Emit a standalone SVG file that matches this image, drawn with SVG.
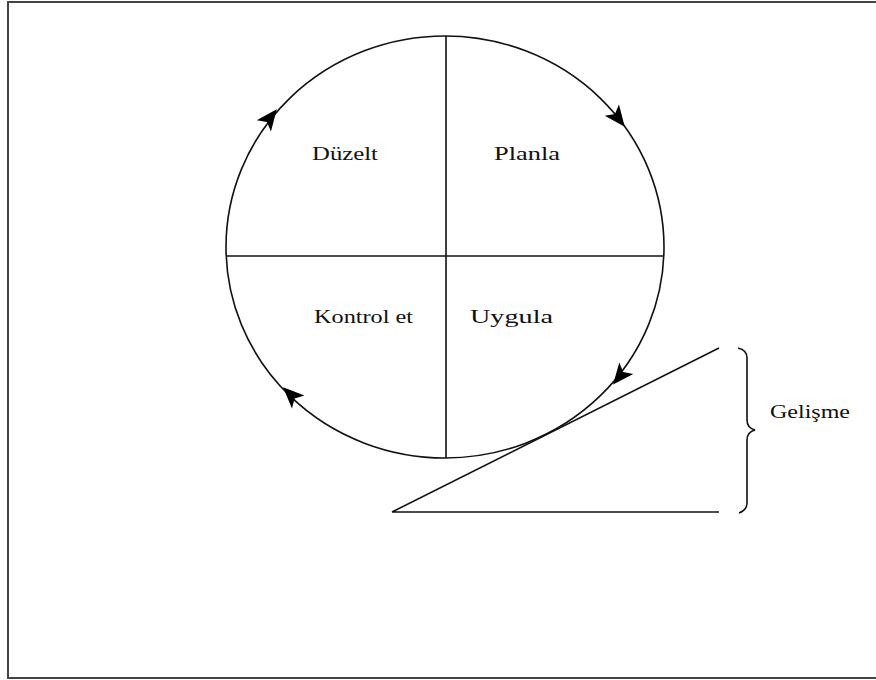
<svg xmlns="http://www.w3.org/2000/svg" width="876" height="680" viewBox="0 0 876 680">
<style>
.ln{fill:none;stroke:#111;stroke-width:1.6}
.lbl{font-family:"Liberation Serif","Times New Roman",serif;font-size:19px;fill:#111}
</style>
<defs>
<path id="ah" d="M11,0 L-10,-9 L-5,0 L-10,9 Z" fill="#000"/>
</defs>
<rect x="8" y="2" width="880" height="676" fill="#fff" stroke="#444" stroke-width="2"/>
<g id="cycle">
<ellipse class="ln" cx="445" cy="247" rx="219" ry="211"/>
<line class="ln" x1="446" y1="36" x2="446" y2="458"/>
<line class="ln" x1="226" y1="256" x2="664" y2="256"/>
</g>
<g id="connectors">
<use href="#ah" transform="translate(270,118) rotate(-52)"/>
<use href="#ah" transform="translate(618,118) rotate(52)"/>
<use href="#ah" transform="translate(620,376) rotate(129)"/>
<use href="#ah" transform="translate(291,395) rotate(-136)"/>
</g>
<g id="duzelt"><text class="lbl" x="312" y="160" textLength="66" lengthAdjust="spacingAndGlyphs">Düzelt</text></g>
<g id="planla"><text class="lbl" x="494" y="160" textLength="66" lengthAdjust="spacingAndGlyphs">Planla</text></g>
<g id="kontrol"><text class="lbl" x="314" y="323" textLength="99" lengthAdjust="spacingAndGlyphs">Kontrol et</text></g>
<g id="uygula"><text class="lbl" x="470" y="323" textLength="83" lengthAdjust="spacingAndGlyphs">Uygula</text></g>
<g id="triangle">
<path class="ln" d="M392,512 L719,348 M392,512 L719,512"/>
</g>
<g id="brace">
<path class="ln" d="M738,348 Q747,350 747,358 L747,420 Q747,428 755,430 Q747,432 747,440 L747,503 Q747,510 739,513"/>
</g>
<g id="gelisme"><text class="lbl" x="770" y="418" textLength="80" lengthAdjust="spacingAndGlyphs">Gelişme</text></g>
</svg>
